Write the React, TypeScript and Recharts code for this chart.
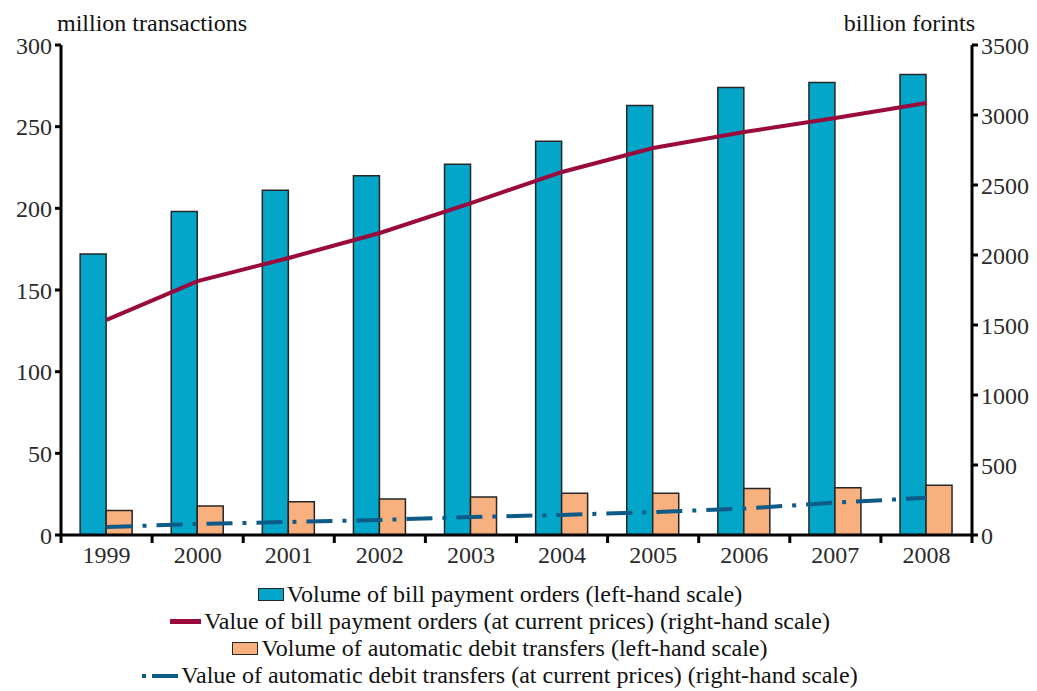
// Bill payment orders & automatic debit transfers, 1999–2008 (Recharts)
import { Bar, ComposedChart, Line, XAxis, YAxis } from "recharts";

const years = ["1999", "2000", "2001", "2002", "2003", "2004", "2005", "2006", "2007", "2008"];
// left-hand scale, million transactions
const billVolume = [172, 198, 211, 220, 227, 241, 263, 274, 277, 282];
const debitVolume = [15, 17.8, 20.4, 22, 23.3, 25.5, 25.5, 28.5, 29, 30.5];
// right-hand scale, billion forints
const billValue = [1536, 1814, 1979, 2157, 2371, 2593, 2764, 2879, 2979, 3086];
const debitValue = [57, 79, 93, 107, 129, 143, 164, 189, 231, 266];

const leftTicks = [0, 50, 100, 150, 200, 250, 300];
const rightTicks = [0, 500, 1000, 1500, 2000, 2500, 3000, 3500];

const labels = {
  billVolume: "Volume of bill payment orders (left-hand scale)",
  billValue: "Value of bill payment orders (at current prices) (right-hand scale)",
  debitVolume: "Volume of automatic debit transfers (left-hand scale)",
  debitValue: "Value of automatic debit transfers (at current prices) (right-hand scale)",
};

const C = {
  blue: "#03a6c9",
  orange: "#f9b07f",
  red: "#9a0a3c",
  navy: "#0d5b87",
  edge: "#262626",
  text: "#2b2b2b",
};
// no serif face in the sandbox, falls back to sans
const FONT = '"Liberation Serif", "Times New Roman", Tinos, "DejaVu Serif", serif';
const FS = 24;

const W = 1037;
const H = 580;
const M = { top: 45, right: 0, bottom: 0, left: 0 };
const LEFT_W = 61;
const RIGHT_W = 65;
const X_H = 45;
const BAND = (W - LEFT_W - RIGHT_W) / years.length;

const data = years.map((y, i) => ({
  year: y,
  billVolume: billVolume[i],
  debitVolume: debitVolume[i],
  billValue: billValue[i],
  debitValue: debitValue[i],
}));

function YearTick(props: any) {
  const { x, y, payload, index } = props;
  const last = index === years.length - 1;
  return (
    <g>
      <line x1={x - BAND / 2} x2={x - BAND / 2} y1={y} y2={y + 8} stroke="#000" strokeWidth={3} />
      {last && <line x1={x + BAND / 2} x2={x + BAND / 2} y1={y} y2={y + 8} stroke="#000" strokeWidth={3} />}
      <text x={x} y={y + 28} textAnchor="middle" fill={C.text} fontSize={FS} style={{ fontFamily: FONT }}>
        {payload.value}
      </text>
    </g>
  );
}

function LegendRow({ icon, text }: { icon: React.ReactNode; text: string }) {
  return (
    <div style={{ height: 27, display: "flex", justifyContent: "center", alignItems: "center" }}>
      {icon}
      <span style={{ marginLeft: 3 }}>{text}</span>
    </div>
  );
}

const boxIcon = (fill: string) => (
  <span style={{ display: "inline-block", width: 24, height: 11, background: fill, border: `1.5px solid ${C.edge}` }} />
);

export default function App() {
  const tickStyle = { fill: C.text, fontSize: FS, style: { fontFamily: FONT } };
  return (
    <div style={{ position: "absolute", left: 0, top: 0, width: W, height: 691, background: "#fff", fontFamily: FONT }}>
      <div style={{ position: "absolute", left: 57, top: 10, fontSize: FS, color: "#111" }}>million transactions</div>
      <div style={{ position: "absolute", right: W - 975, top: 10, fontSize: FS, color: "#111" }}>billion forints</div>
      <ComposedChart width={W} height={H} data={data} margin={M} barGap={0} barCategoryGap="21%" style={{ fontFamily: FONT }}>
        <XAxis
          dataKey="year"
          height={X_H}
          axisLine={{ stroke: "#000", strokeWidth: 3 }}
          tickLine={false}
          tickSize={0}
          tickMargin={0}
          tick={<YearTick />}
          interval={0}
        />
        <YAxis
          yAxisId="left"
          width={LEFT_W}
          domain={[0, 300]}
          ticks={leftTicks}
          axisLine={{ stroke: "#000", strokeWidth: 3 }}
          tickLine={{ stroke: "#000", strokeWidth: 3 }}
          tickSize={6}
          tickMargin={3}
          tick={tickStyle}
        />
        <YAxis
          yAxisId="right"
          orientation="right"
          width={RIGHT_W}
          domain={[0, 3500]}
          ticks={rightTicks}
          axisLine={{ stroke: "#000", strokeWidth: 3 }}
          tickLine={{ stroke: "#000", strokeWidth: 3 }}
          tickSize={6}
          tickMargin={3}
          tick={tickStyle}
        />
        <Bar yAxisId="left" dataKey="billVolume" fill={C.blue} stroke={C.edge} strokeWidth={1.5} isAnimationActive={false} />
        <Bar yAxisId="left" dataKey="debitVolume" fill={C.orange} stroke={C.edge} strokeWidth={1.5} isAnimationActive={false} />
        <Line yAxisId="right" type="linear" dataKey="billValue" stroke={C.red} strokeWidth={4} dot={false} isAnimationActive={false} />
        <Line
          yAxisId="right"
          type="linear"
          dataKey="debitValue"
          stroke={C.navy}
          strokeWidth={4}
          strokeDasharray="26 10 4 10"
          dot={false}
          isAnimationActive={false}
        />
      </ComposedChart>
      <div style={{ position: "absolute", left: 0, top: 581, width: 1000, fontSize: FS, color: "#111", lineHeight: "27px" }}>
        <LegendRow icon={boxIcon(C.blue)} text={labels.billVolume} />
        <LegendRow icon={<span style={{ display: "inline-block", width: 31, height: 5, background: C.red }} />} text={labels.billValue} />
        <LegendRow icon={boxIcon(C.orange)} text={labels.debitVolume} />
        <LegendRow
          icon={
            <svg width={36} height={6}>
              <line x1={0} x2={36} y1={3} y2={3} stroke={C.navy} strokeWidth={4} strokeDasharray="4 6 26" />
            </svg>
          }
          text={labels.debitValue}
        />
      </div>
    </div>
  );
}
